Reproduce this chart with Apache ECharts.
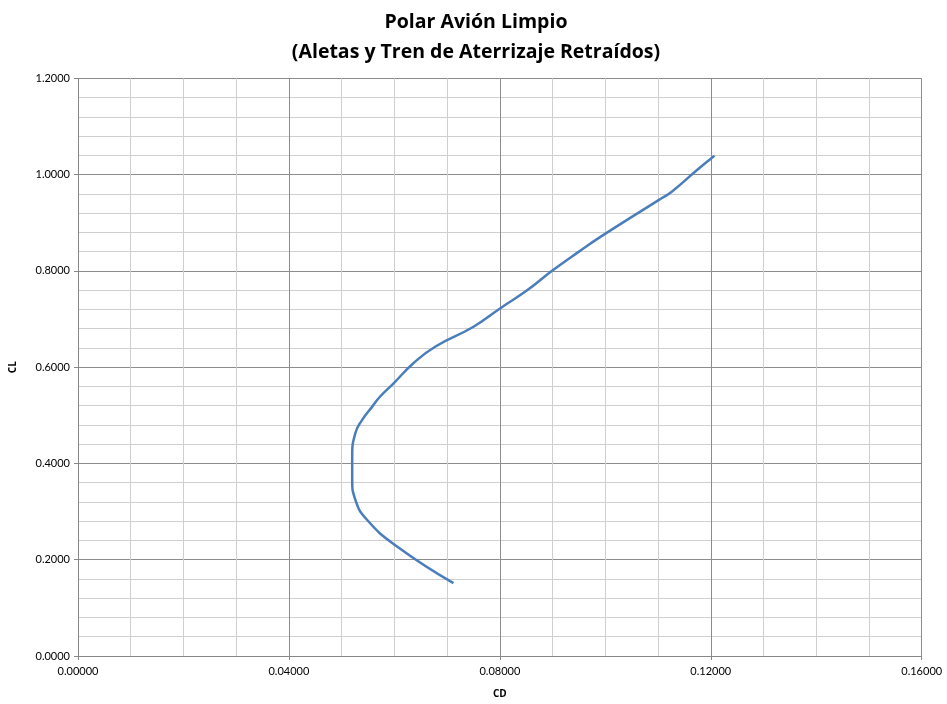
<!DOCTYPE html>
<html><head><meta charset="utf-8">
<script src="https://cdn.jsdelivr.net/npm/echarts@6/dist/echarts.min.js"></script>
<style>html,body{margin:0;padding:0;background:#fff}#c{width:947px;height:704px}</style>
</head><body><div id="c"></div>
<script>
const titleLines = ["Polar Avión Limpio", "(Aletas y Tren de Aterrizaje Retraídos)"];
const xName = "CD";
const yName = "CL";
const cdValues = [0.0712, 0.0605, 0.0548, 0.0526, 0.0520, 0.0520, 0.0526, 0.0539, 0.0558, 0.0573, 0.0599, 0.0636, 0.0678, 0.0750, 0.0801, 0.0851, 0.0899, 0.0950, 0.0990, 0.1101, 0.1126, 0.1174, 0.1207];
const clValues = [0.1515, 0.2275, 0.2830, 0.3245, 0.3660, 0.4144, 0.4630, 0.4906, 0.5180, 0.5390, 0.5670, 0.6080, 0.6430, 0.6840, 0.7225, 0.7590, 0.8000, 0.8400, 0.8700, 0.9470, 0.9645, 1.0095, 1.0390];

const chart = echarts.init(document.getElementById('c'), null, {renderer: 'canvas'});
const font = '"Open Sans", Lato, sans-serif';
const tickFont = 'Lato, "Open Sans", sans-serif';
chart.setOption({
  animation: false,
  title: {
    text: titleLines.join('\n'),
    left: 471, top: 2, textAlign: 'center',
    textStyle: {fontFamily: font, fontWeight: 'bold', fontSize: 19.5, lineHeight: 30, color: '#000'}
  },
  grid: {left: 77.5, right: 25.3, top: 78.3, bottom: 47.7, containLabel: false},
  xAxis: {
    type: 'value', min: 0, max: 0.16, interval: 0.04,
    name: xName, nameLocation: 'middle', nameGap: 33,
    nameTextStyle: {fontFamily: font, fontWeight: 'bold', fontSize: 10, color: '#000'},
    axisLine: {show: true, lineStyle: {color: '#888', width: 1}},
    axisTick: {show: true, length: 4, lineStyle: {color: '#888'}},
    axisLabel: {fontFamily: tickFont, fontSize: 11, color: '#000', margin: 10, formatter: v => v.toFixed(5)},
    splitLine: {show: true, lineStyle: {color: '#8c8c8c', width: 1}},
    minorTick: {show: true, splitNumber: 4, length: 0},
    minorSplitLine: {show: true, lineStyle: {color: '#cfcfcf', width: 1}}
  },
  yAxis: {
    type: 'value', min: 0, max: 1.2, interval: 0.2,
    name: yName, nameLocation: 'middle', nameGap: 60, nameRotate: 90,
    nameTextStyle: {fontFamily: font, fontWeight: 'bold', fontSize: 10, color: '#000'},
    axisLine: {show: true, lineStyle: {color: '#888', width: 1}},
    axisTick: {show: true, length: 4, lineStyle: {color: '#888'}},
    axisLabel: {fontFamily: tickFont, fontSize: 11, color: '#000', margin: 8, formatter: v => v.toFixed(4)},
    splitLine: {show: true, lineStyle: {color: '#8c8c8c', width: 1}},
    minorTick: {show: true, splitNumber: 5, length: 0},
    minorSplitLine: {show: true, lineStyle: {color: '#cfcfcf', width: 1}}
  },
  series: [{
    type: 'line',
    data: cdValues.map((x, i) => [x, clValues[i]]),
    smooth: 0.5,
    showSymbol: false,
    lineStyle: {color: '#4a7ebb', width: 2.5},
    clip: false
  }]
});
</script></body></html>
